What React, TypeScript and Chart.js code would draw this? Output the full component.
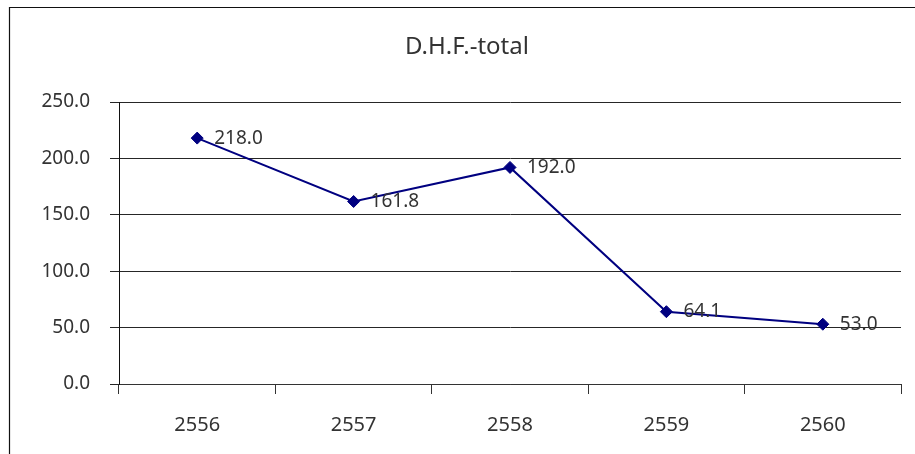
import React, { useEffect, useRef } from "react";
import { Chart, registerables } from "chart.js";

Chart.register(...registerables);

const categories: string[] = ["2556", "2557", "2558", "2559", "2560"];
const values: number[] = [218.0, 161.8, 192.0, 64.1, 53.0];
const yTicks: number[] = [0, 50, 100, 150, 200, 250];
const titleText = "D.H.F.-total";

const FONT = "'Noto Sans', sans-serif";
const TEXT = "#333333";
const LINE = "#000080";

const framePlugin = {
  id: "frameAndTitle",
  beforeDraw(chart: any) {
    const ctx = chart.ctx;
    ctx.save();
    ctx.fillStyle = "#ffffff";
    ctx.fillRect(0, 0, chart.width, chart.height);
    ctx.strokeStyle = "#111111";
    ctx.lineWidth = 1.2;
    ctx.beginPath();
    ctx.moveTo(9.5, chart.height);
    ctx.lineTo(9.5, 7.5);
    ctx.lineTo(chart.width, 7.5);
    ctx.stroke();
    ctx.fillStyle = TEXT;
    ctx.font = `24px ${FONT}`;
    ctx.textAlign = "center";
    ctx.textBaseline = "middle";
    ctx.fillText(titleText, 467, 47);
    ctx.restore();
  },
  afterDatasetsDraw(chart: any) {
    const ctx = chart.ctx;
    const meta = chart.getDatasetMeta(0);
    ctx.save();
    ctx.fillStyle = TEXT;
    ctx.font = `19px ${FONT}`;
    ctx.textAlign = "left";
    ctx.textBaseline = "middle";
    meta.data.forEach((pt: any, i: number) => {
      ctx.fillText(values[i].toFixed(1), pt.x + 17, pt.y);
    });
    ctx.restore();
  },
};

export default function App() {
  const ref = useRef<HTMLCanvasElement | null>(null);
  useEffect(() => {
    if (!ref.current) return;
    const chart = new Chart(ref.current, {
      type: "line",
      data: {
        labels: categories,
        datasets: [
          {
            data: values,
            borderColor: LINE,
            backgroundColor: LINE,
            borderWidth: 2,
            pointStyle: "rectRot",
            pointRadius: 6,
            pointBorderWidth: 1,
            pointBackgroundColor: LINE,
            pointBorderColor: LINE,
            tension: 0,
          },
        ],
      },
      options: {
        responsive: false,
        animation: false,
        layout: { padding: { left: 0, right: 14, top: 102, bottom: 0 } },
        plugins: {
          legend: { display: false },
          title: { display: false },
          tooltip: { enabled: false },
        },
        scales: {
          x: {
            type: "category",
            offset: true,
            afterFit: (s: any) => {
              s.height = 70;
            },
            grid: {
              offset: true,
              drawOnChartArea: false,
              drawTicks: true,
              tickLength: 10,
              color: "#333333",
            },
            border: { display: true, color: "#333333" },
            ticks: {
              padding: 19,
              color: TEXT,
              font: { family: FONT, size: 20 },
              maxRotation: 0,
            },
          },
          y: {
            min: 0,
            max: 250,
            afterFit: (s: any) => {
              s.width = 119;
            },
            afterBuildTicks: (s: any) => {
              s.ticks = yTicks.map((v) => ({ value: v }));
            },
            grid: {
              color: "#262626",
              drawTicks: true,
              tickLength: 9,
            },
            border: { display: true, color: "#111111" },
            ticks: {
              padding: 20,
              color: TEXT,
              font: { family: FONT, size: 19 },
              callback: (v: any) => Number(v).toFixed(1),
            },
          },
        },
      },
      plugins: [framePlugin],
    });
    return () => chart.destroy();
  }, []);
  return (
    <div style={{ position: "absolute", left: 0, top: 0, width: 915, height: 454, background: "#fff" }}>
      <canvas ref={ref} width={915} height={454} />
    </div>
  );
}
